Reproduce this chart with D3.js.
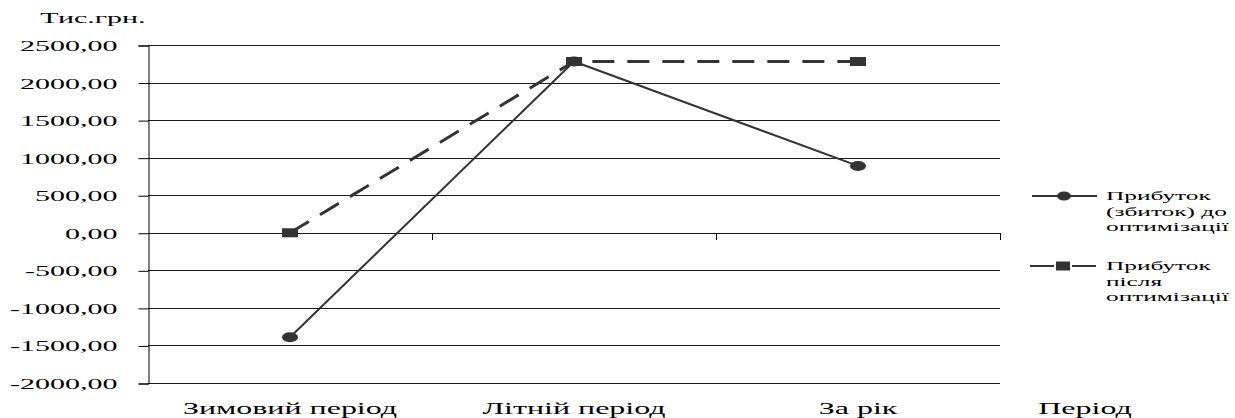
<!DOCTYPE html>
<html><head><meta charset="utf-8">
<script src="https://cdn.jsdelivr.net/npm/d3@7"></script>
<style>
html,body{margin:0;padding:0;background:#fff;}
</style></head>
<body><svg id="c" width="1235" height="418"></svg>
<script>
const categories = ["Зимовий період", "Літній період", "За рік"];
const beforeValues = [-1390, 2280, 890];
const afterValues = [0, 2280, 2280];
const yTicks = [-2000, -1500, -1000, -500, 0, 500, 1000, 1500, 2000, 2500];
const seriesNames = [["Прибуток", "(збиток) до", "оптимізації"], ["Прибуток", "після", "оптимізації"]];
const yTitle = "Тис.грн.";
const xTitle = "Період";

const SX = 2.0; // horizontal stretch of the original picture
const FONT = "'Liberation Serif', 'Times New Roman', Times, serif";
const svg = d3.select("#c");
const pLeft = 148, pRight = 1000, pTop = 45, pBottom = 383;

const x = d3.scaleBand().domain(categories).range([pLeft, pRight]).padding(0);
const y = d3.scaleLinear().domain([-2000, 2500]).range([pBottom, pTop]);
const fmt = d => d3.format(".2f")(d).replace(".", ",").replace("−", "-");

function stext(g, tx, ty, str, anchor, size, sx) {
  return g.append("text").attr("transform", `translate(${tx},${ty}) scale(${sx || SX},1)`)
    .attr("text-anchor", anchor).attr("font-family", FONT)
    .style("font-family", FONT).style("font-size", size + "px").style("font-weight", "normal")
    .attr("fill", "#000").text(str);
}

// gridlines
svg.append("g").selectAll("line").data(yTicks).join("line")
  .attr("x1", pLeft).attr("x2", pRight)
  .attr("y1", d => Math.round(y(d)) + 0.5).attr("y2", d => Math.round(y(d)) + 0.5)
  .attr("stroke", "#1a1a1a").attr("stroke-width", 1);

// y axis
const yAxis = svg.append("g").attr("transform", `translate(${pLeft + 0.5},0.5)`)
  .call(d3.axisLeft(y).tickValues(yTicks).tickSize(10).tickFormat(fmt));
yAxis.select(".domain").attr("stroke", "#000");
yAxis.selectAll(".tick line").attr("stroke", "#000");
yAxis.selectAll(".tick text").remove();
yAxis.selectAll(".tick").each(function(d) {
  stext(d3.select(this), -31, 5, fmt(d), "end", 15);
});

// x axis ticks at zero line
const bounds = [1, 2, 3].map(i => pLeft + x.bandwidth() * i);
svg.append("g").selectAll("line").data(bounds).join("line")
  .attr("x1", d => Math.round(d) + 0.5).attr("x2", d => Math.round(d) + 0.5)
  .attr("y1", Math.round(y(0))).attr("y2", Math.round(y(0)) + 7)
  .attr("stroke", "#000");

// category labels
const cg = svg.append("g");
categories.forEach(c => stext(cg, x(c) + x.bandwidth() / 2, 414, c, "middle", 16));
stext(svg, 1085, 414, xTitle, "middle", 16);
stext(svg, 93, 23, yTitle, "middle", 15);

const pts = arr => categories.map((c, i) => [x(c) + x.bandwidth() / 2, y(arr[i])]);
const line = d3.line();
const col = "#333";

// after series (dashed)
svg.append("path").attr("d", line(pts(afterValues))).attr("fill", "none")
  .attr("stroke", col).attr("stroke-width", 3).attr("stroke-dasharray", "22,13");
// before series (solid)
svg.append("path").attr("d", line(pts(beforeValues))).attr("fill", "none")
  .attr("stroke", col).attr("stroke-width", 2);

svg.append("g").selectAll("rect").data(pts(afterValues)).join("rect")
  .attr("x", d => d[0] - 8).attr("y", d => d[1] - 4.5).attr("width", 16).attr("height", 9).attr("fill", col);
svg.append("g").selectAll("ellipse").data(pts(beforeValues)).join("ellipse")
  .attr("cx", d => d[0]).attr("cy", d => d[1]).attr("rx", 8).attr("ry", 5).attr("fill", col);

// legend
const lg = svg.append("g");
const ly = [196, 266];
lg.append("line").attr("x1", 1032).attr("x2", 1097).attr("y1", ly[0]).attr("y2", ly[0]).attr("stroke", col).attr("stroke-width", 2);
lg.append("ellipse").attr("cx", 1064).attr("cy", ly[0]).attr("rx", 7).attr("ry", 4.5).attr("fill", col);
lg.append("line").attr("x1", 1030).attr("x2", 1054).attr("y1", ly[1]).attr("y2", ly[1]).attr("stroke", col).attr("stroke-width", 2);
lg.append("line").attr("x1", 1072).attr("x2", 1096).attr("y1", ly[1]).attr("y2", ly[1]).attr("stroke", col).attr("stroke-width", 2);
lg.append("rect").attr("x", 1056).attr("y", ly[1] - 4.5).attr("width", 14).attr("height", 9).attr("fill", col);
seriesNames.forEach((lines, i) => {
  lines.forEach((t, j) => stext(lg, 1106, ly[i] + 4 + j * 15.5, t, "start", 13, 1.95));
});
</script></body></html>
